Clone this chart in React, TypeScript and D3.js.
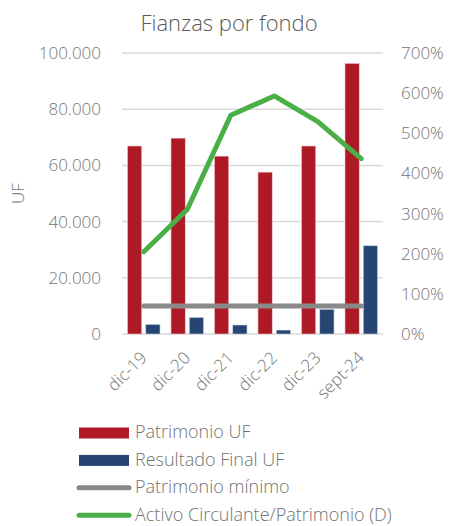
import React from "react";
import * as d3 from "d3";

const categories = ["dic-19", "dic-20", "dic-21", "dic-22", "dic-23", "sept-24"];
const patrimonio = [66900, 69700, 63300, 57600, 66900, 96300];
const resultado = [3400, 5900, 3200, 1400, 8800, 31400];
const patrimonioMinimo = [10000, 10000, 10000, 10000, 10000, 10000];
const activoRatio = [2.05, 3.1, 5.45, 5.93, 5.29, 4.37];
const leftTicks = [0, 20000, 40000, 60000, 80000, 100000];
const rightTicks = [0, 1, 2, 3, 4, 5, 6, 7];

const W = 449;
const H = 526;
const plot = { left: 122, right: 383, top: 53, bottom: 334 };
const FONT = "'Open Sans', 'Noto Sans', sans-serif";
const TXT = "#737373";
const RED = "#ad1a25";
const BLUE = "#264573";
const GRAY = "#898989";
const GREEN = "#4aaf47";

export default function App() {
  const x = d3.scaleBand<string>().domain(categories).range([plot.left, plot.right]).padding(0);
  const inner = d3.scaleBand<string>().domain(["p", "r"]).range([0, x.bandwidth()]).paddingInner(0.22).paddingOuter(0.3);
  const y = d3.scaleLinear().domain([0, 100000]).range([plot.bottom, plot.top]);
  const y2 = d3.scaleLinear().domain([0, 7]).range([plot.bottom, plot.top]);
  const fmt = (v: number) => d3.format(",")(v).replace(/,/g, ".");
  const cx = (c: string) => (x(c) as number) + x.bandwidth() / 2;
  const minLine = d3.line<number>().x((_, i) => cx(categories[i])).y((d) => y(d));
  const ratioLine = d3.line<number>().x((_, i) => cx(categories[i])).y((d) => y2(d));

  const legend = [
    { label: "Patrimonio UF", type: "rect", color: RED },
    { label: "Resultado Final UF", type: "rect", color: BLUE },
    { label: "Patrimonio mínimo", type: "line", color: GRAY },
    { label: "Activo Circulante/Patrimonio (D)", type: "line", color: GREEN },
  ];

  return (
    <svg width={W} height={H} style={{ position: "fixed", left: 0, top: 0, background: "#fff" }} fontFamily={FONT} fontWeight={300}>
      <text x={229} y={31} textAnchor="middle" fontSize={22} fill="#595959">Fianzas por fondo</text>
      {leftTicks.map((t) => (
        <g key={t}>
          <line x1={plot.left} x2={plot.right} y1={y(t)} y2={y(t)} stroke="#d9d9d9" strokeWidth={1.5} />
          <text x={101} y={y(t)} dy="0.35em" textAnchor="end" fontSize={17} fill={TXT}>{fmt(t)}</text>
        </g>
      ))}
      {rightTicks.map((t) => (
        <text key={t} x={401} y={y2(t)} dy="0.35em" textAnchor="start" fontSize={17} fill={TXT}>{`${t * 100}%`}</text>
      ))}
      <text transform={`translate(24,${(plot.top + plot.bottom) / 2}) rotate(-90)`} textAnchor="middle" fontSize={17} fill={TXT}>UF</text>
      {categories.map((c, i) => (
        <g key={c}>
          <rect x={(x(c) as number) + (inner("p") as number)} y={y(patrimonio[i])} width={inner.bandwidth()} height={y(0) - y(patrimonio[i])} fill={RED} stroke="#f2c9cc" strokeWidth={0.6} />
          <rect x={(x(c) as number) + (inner("r") as number)} y={y(resultado[i])} width={inner.bandwidth()} height={y(0) - y(resultado[i])} fill={BLUE} stroke="#c9d3e3" strokeWidth={0.6} />
          <text transform={`translate(${cx(c) + 4},${plot.bottom + 25}) rotate(-45)`} textAnchor="end" fontSize={17} fill={TXT}>{c}</text>
        </g>
      ))}
      <path d={minLine(patrimonioMinimo) as string} fill="none" stroke={GRAY} strokeWidth={5} strokeLinecap="round" />
      <path d={ratioLine(activoRatio) as string} fill="none" stroke={GREEN} strokeWidth={5} strokeLinecap="round" strokeLinejoin="round" />
      {legend.map((l, i) => {
        const ly = 433 + i * 27.4;
        return (
          <g key={l.label}>
            {l.type === "rect" ? (
              <rect x={79} y={ly - 5.5} width={50} height={11} fill={l.color} />
            ) : (
              <line x1={79} x2={129} y1={ly} y2={ly} stroke={l.color} strokeWidth={5} strokeLinecap="round" />
            )}
            <text x={135} y={ly} dy="0.3em" fontSize={18} fill={TXT}>{l.label}</text>
          </g>
        );
      })}
    </svg>
  );
}
